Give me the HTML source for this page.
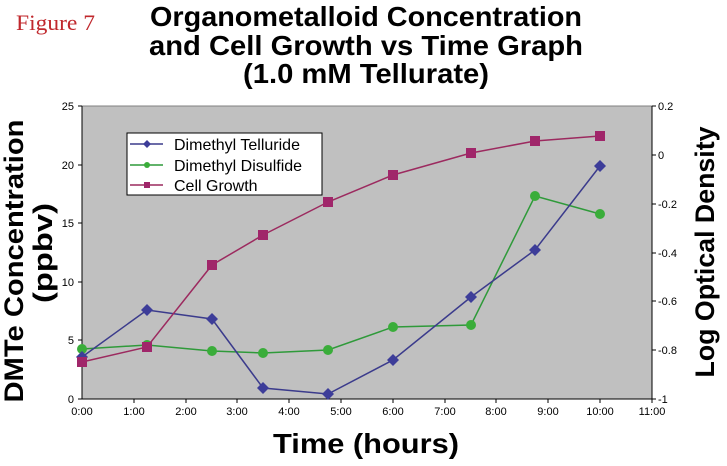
<!DOCTYPE html>
<html><head><meta charset="utf-8"><style>body{margin:0;background:#fff}svg{display:block}</style></head><body>
<svg width="727" height="466" xmlns="http://www.w3.org/2000/svg" font-family="Liberation Sans, Arial, sans-serif">
<text x="16" y="30" font-family="Liberation Serif, serif" font-size="22" fill="#c0282d" textLength="79" lengthAdjust="spacingAndGlyphs">Figure 7</text>
<g font-weight="bold" font-size="28" text-anchor="middle" fill="#000">
<text x="366" y="26" textLength="432" lengthAdjust="spacingAndGlyphs">Organometalloid Concentration</text>
<text x="366" y="55" textLength="434" lengthAdjust="spacingAndGlyphs">and Cell Growth vs Time Graph</text>
<text x="366" y="83" textLength="246" lengthAdjust="spacingAndGlyphs">(1.0 mM Tellurate)</text>
</g>
<rect x="82" y="106" width="570" height="293" fill="#c0c0c0" stroke="#808080" stroke-width="1"/>
<g stroke="#000" stroke-width="1">
<line x1="82" y1="106" x2="82" y2="399"/><line x1="652" y1="106" x2="652" y2="399"/><line x1="82" y1="399" x2="652" y2="399"/>
</g>
<g font-size="11" fill="#000" text-anchor="end">
<text x="74" y="110">25</text><text x="74" y="169">20</text><text x="74" y="227">15</text><text x="74" y="286">10</text><text x="74" y="344">5</text><text x="74" y="403">0</text>
</g>
<g stroke="#000"><line x1="78" y1="106" x2="82" y2="106"/><line x1="78" y1="165" x2="82" y2="165"/><line x1="78" y1="223" x2="82" y2="223"/><line x1="78" y1="282" x2="82" y2="282"/><line x1="78" y1="340" x2="82" y2="340"/><line x1="78" y1="399" x2="82" y2="399"/>
<line x1="652" y1="106" x2="656" y2="106"/><line x1="652" y1="155" x2="656" y2="155"/><line x1="652" y1="204" x2="656" y2="204"/><line x1="652" y1="253" x2="656" y2="253"/><line x1="652" y1="301" x2="656" y2="301"/><line x1="652" y1="350" x2="656" y2="350"/><line x1="652" y1="399" x2="656" y2="399"/></g>
<g font-size="11" fill="#000">
<text x="658" y="110">0.2</text><text x="658" y="159">0</text><text x="658" y="208">-0.2</text><text x="658" y="257">-0.4</text><text x="658" y="305">-0.6</text><text x="658" y="354">-0.8</text><text x="658" y="403">-1</text>
</g>
<g font-size="11" fill="#000" text-anchor="middle">
<text x="82" y="415">0:00</text><text x="134" y="415">1:00</text><text x="186" y="415">2:00</text><text x="237" y="415">3:00</text><text x="289" y="415">4:00</text><text x="341" y="415">5:00</text><text x="393" y="415">6:00</text><text x="445" y="415">7:00</text><text x="496" y="415">8:00</text><text x="548" y="415">9:00</text><text x="600" y="415">10:00</text><text x="652" y="415">11:00</text>
</g>
<g stroke="#000"><line x1="134" y1="399" x2="134" y2="403"/><line x1="186" y1="399" x2="186" y2="403"/><line x1="237" y1="399" x2="237" y2="403"/><line x1="289" y1="399" x2="289" y2="403"/><line x1="341" y1="399" x2="341" y2="403"/><line x1="393" y1="399" x2="393" y2="403"/><line x1="445" y1="399" x2="445" y2="403"/><line x1="496" y1="399" x2="496" y2="403"/><line x1="548" y1="399" x2="548" y2="403"/><line x1="600" y1="399" x2="600" y2="403"/><line x1="652" y1="399" x2="652" y2="403"/></g>
<polyline fill="none" stroke="#2f9a3a" stroke-width="1.5" points="82,349 147,345 212,351 263,353 328,350 393,327 471,325 535,196 600,214"/>
<g fill="#3aad3a"><circle cx="82" cy="349" r="5"/><circle cx="147" cy="345" r="5"/><circle cx="212" cy="351" r="5"/><circle cx="263" cy="353" r="5"/><circle cx="328" cy="350" r="5"/><circle cx="393" cy="327" r="5"/><circle cx="471" cy="325" r="5"/><circle cx="535" cy="196" r="5"/><circle cx="600" cy="214" r="5"/></g>
<polyline fill="none" stroke="#3b3b8c" stroke-width="1.5" points="82,357 147,310 212,319 263,388 328,394 393,360 471,297 535,250 600,166"/>
<g fill="#3d3d99">
<polygon points="82,351 88,357 82,363 76,357"/><polygon points="147,304 153,310 147,316 141,310"/><polygon points="212,313 218,319 212,325 206,319"/><polygon points="263,382 269,388 263,394 257,388"/><polygon points="328,388 334,394 328,400 322,394"/><polygon points="393,354 399,360 393,366 387,360"/><polygon points="471,291 477,297 471,303 465,297"/><polygon points="535,244 541,250 535,256 529,250"/><polygon points="600,160 606,166 600,172 594,166"/></g>
<polyline fill="none" stroke="#9c2a5f" stroke-width="1.5" points="82,362 147,347 212,265 263,235 328,202 393,175 471,153 535,141 600,136"/>
<g fill="#a0266a"><rect x="77" y="357" width="10" height="10"/><rect x="142" y="342" width="10" height="10"/><rect x="207" y="260" width="10" height="10"/><rect x="258" y="230" width="10" height="10"/><rect x="323" y="197" width="10" height="10"/><rect x="388" y="170" width="10" height="10"/><rect x="466" y="148" width="10" height="10"/><rect x="530" y="136" width="10" height="10"/><rect x="595" y="131" width="10" height="10"/></g>
<rect x="127" y="133" width="195" height="62" fill="#fff" stroke="#000" stroke-width="1"/>
<line x1="130" y1="144" x2="163" y2="144" stroke="#3b3b8c" stroke-width="1.5"/><polygon points="147,140 151,144 147,148 143,144" fill="#3d3d99"/>
<line x1="130" y1="165" x2="163" y2="165" stroke="#2f9a3a" stroke-width="1.5"/><circle cx="147" cy="165" r="3" fill="#3aad3a"/>
<line x1="130" y1="185" x2="163" y2="185" stroke="#9c2a5f" stroke-width="1.5"/><rect x="144" y="182" width="6" height="6" fill="#a0266a"/>
<g font-size="16" fill="#000"><text x="174" y="150">Dimethyl Telluride</text><text x="174" y="171">Dimethyl Disulfide</text><text x="174" y="191">Cell Growth</text></g>
<text x="366" y="453" font-size="28" font-weight="bold" text-anchor="middle" textLength="186" lengthAdjust="spacingAndGlyphs">Time (hours)</text>
<g font-size="27" font-weight="bold" text-anchor="middle">
<text transform="translate(23,261) rotate(-90)" textLength="283" lengthAdjust="spacingAndGlyphs">DMTe Concentration</text>
<text transform="translate(52,253) rotate(-90)" textLength="100" lengthAdjust="spacingAndGlyphs">(ppbv)</text>
<text transform="translate(714,252) rotate(-90)" textLength="251" lengthAdjust="spacingAndGlyphs">Log Optical Density</text>
</g>
</svg>
</body></html>
